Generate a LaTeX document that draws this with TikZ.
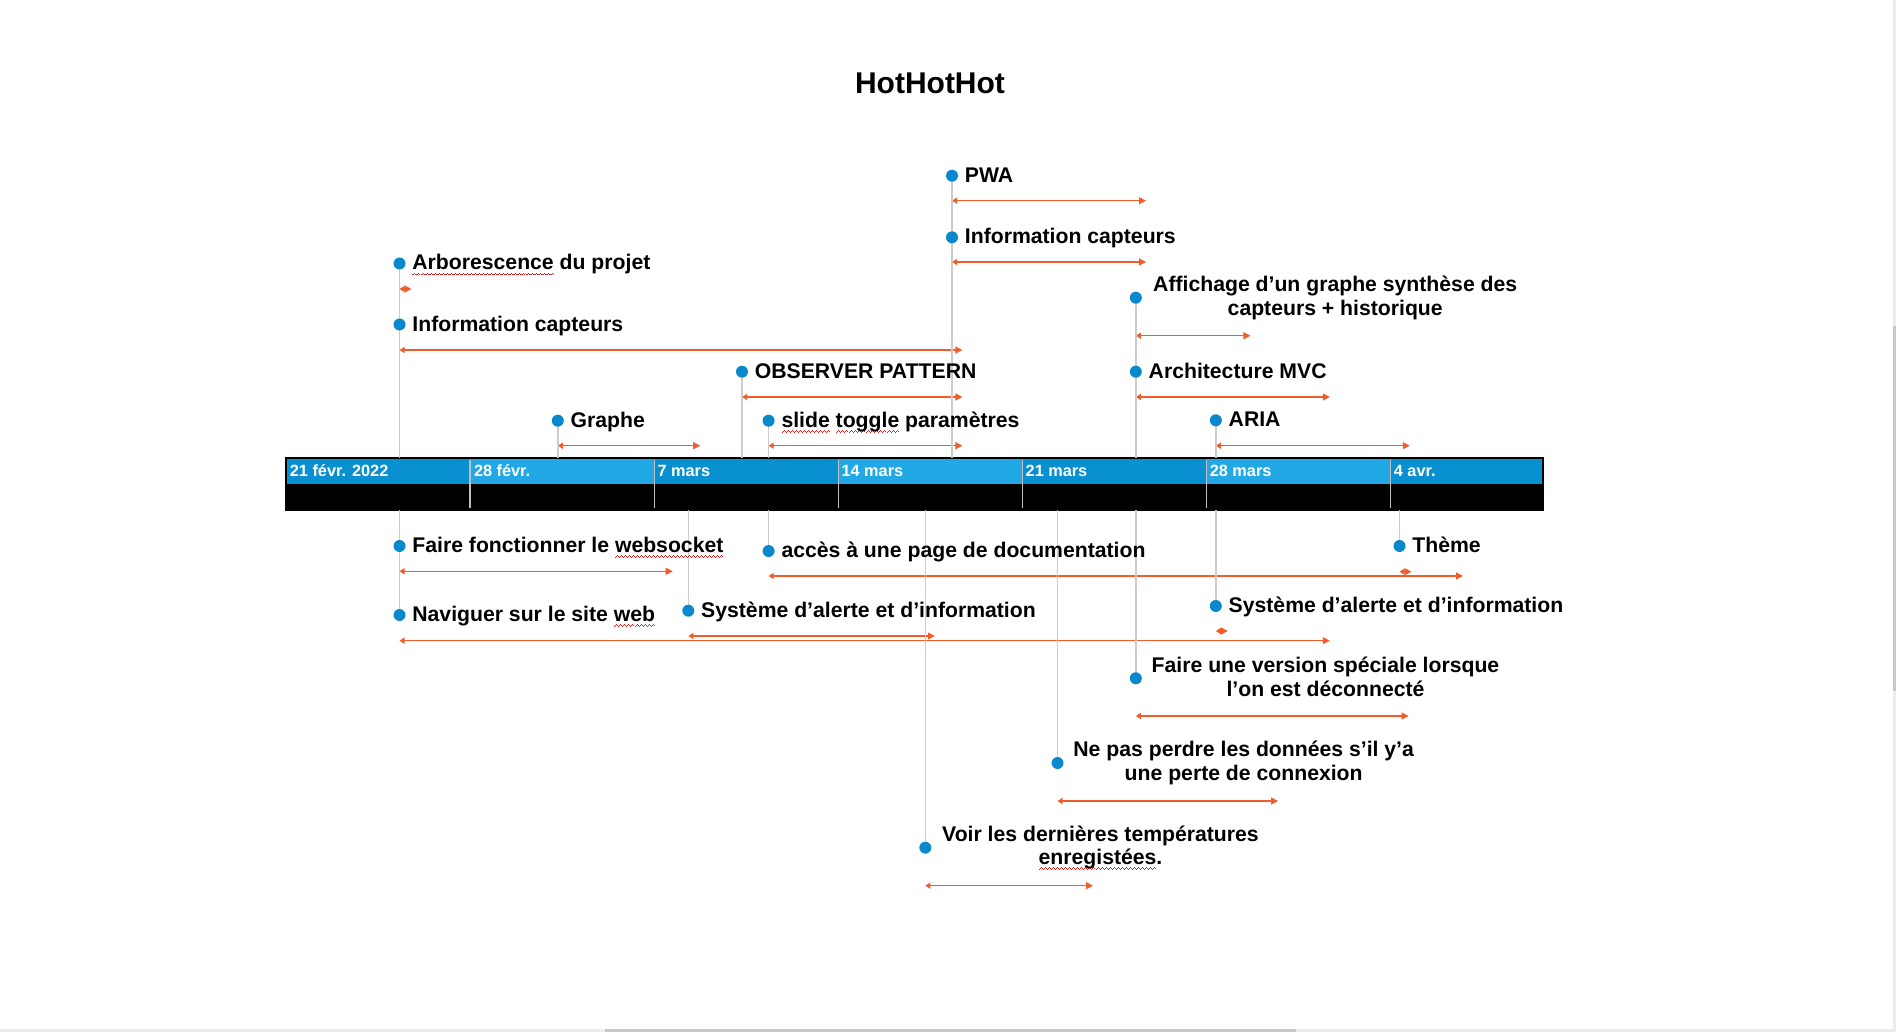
\documentclass[tikz,border=0pt]{standalone}
\usepackage{fontspec}
\setmainfont{Liberation Sans}
\usetikzlibrary{arrows.meta}
\definecolor{dotblue}{RGB}{10,136,206}
\definecolor{bard}{RGB}{8,144,208}
\definecolor{barl}{RGB}{34,168,228}
\definecolor{durred}{RGB}{242,92,42}
\definecolor{stemgray}{RGB}{204,204,204}
\definecolor{tickgray}{RGB}{192,192,192}
\definecolor{sqred}{RGB}{228,32,32}
\definecolor{scrl}{RGB}{236,236,236}
\definecolor{scrd}{RGB}{200,200,200}
\newsavebox\sqbox
\newcommand\squig[1]{\sbox\sqbox{#1}\leavevmode\rlap{\raisebox{-2.6pt}{\color{sqred}\hbox to\wd\sqbox{\xleaders\hbox{\rule{0.5pt}{0.4pt}\rule[0.4pt]{0.5pt}{0.4pt}\rule[0.8pt]{0.5pt}{0.4pt}\rule[0.4pt]{0.5pt}{0.4pt}}\hfil}}}\usebox\sqbox}
\newcommand\lblfont{\bfseries\fontsize{10.6}{11.8}\selectfont}
\newcommand\titlefont{\bfseries\fontsize{15}{18}\selectfont}
\newcommand\tickfont{\bfseries\fontsize{8.15}{10}\selectfont}
\tikzset{
  dot/.style={circle,fill=dotblue,inner sep=0pt,minimum size=6pt},
  lbl/.style={anchor=base west,inner sep=0pt,font=\lblfont},
  lbltwo/.style={anchor=west,inner sep=0pt,font=\lblfont,align=center},
  dur/.style={draw=durred,line width=0.65pt,{Triangle[length=2.5pt,width=3pt]}-{Triangle[length=3.5pt,width=3.5pt]}},
  stem/.style={draw=stemgray,line width=0.8pt},
  tickline/.style={draw=tickgray,line width=0.7pt},
  ticklbl/.style={anchor=base west,inner sep=0pt,font=\tickfont,text=white},
}
\begin{document}
\begin{tikzpicture}[x=0.5pt,y=-0.5pt]
\useasboundingbox (0,0) rectangle (1896,1032);
\fill[white] (0,0) rectangle (1896,1032);

% title
\node[anchor=base,inner sep=0pt,font=\titlefont] (title) at (930,93.3) {HotHotHot};

% timeline bar
\fill[bard] (286,458) rectangle (470.1,483.5);
\fill[barl] (470.1,458) rectangle (654.2,483.5);
\fill[bard] (654.2,458) rectangle (838.2,483.5);
\fill[barl] (838.2,458) rectangle (1022.3,483.5);
\fill[bard] (1022.3,458) rectangle (1206.4,483.5);
\fill[barl] (1206.4,458) rectangle (1390.5,483.5);
\fill[bard] (1390.5,458) rectangle (1543,483.5);
\fill[black] (286,483.5) rectangle (1543,510);
\foreach \t in {470.1,654.2,838.2,1022.3,1206.4,1390.5}
  \draw[tickline] (\t,459.5) -- (\t,508);
\draw[black,line width=0.75pt] (286,458) rectangle (1543,510);
\node[ticklbl] (t0) at (289.5,476) {21 févr. 2022};
\node[ticklbl] (t1) at (473.6,476) {28 févr.};
\node[ticklbl] (t2) at (657.2,476) {7 mars};
\node[ticklbl] (t3) at (841.2,476) {14 mars};
\node[ticklbl] (t4) at (1025.3,476) {21 mars};
\node[ticklbl] (t5) at (1209.4,476) {28 mars};
\node[ticklbl] (t6) at (1393.5,476) {4 avr.};
\coordinate (bartop) at (0,458);
\coordinate (barbot) at (0,510);

% event positions
\coordinate (e1) at (399.5,263.5);
\coordinate (e2) at (399.5,324.5);
\coordinate (e3) at (557.8,420.7);
\coordinate (e4) at (742,371.7);
\coordinate (e5) at (768.6,420.7);
\coordinate (e6) at (952,175.7);
\coordinate (e7) at (952,237.3);
\coordinate (e8) at (1135.8,297.7);
\coordinate (e9) at (1135.8,371.7);
\coordinate (e10) at (1215.8,420.3);
\coordinate (e11) at (399.5,546);
\coordinate (e12) at (768.6,551);
\coordinate (e13) at (1399.5,546);
\coordinate (e14) at (399.5,615);
\coordinate (e15) at (688.3,610.7);
\coordinate (e16) at (1215.8,606);
\coordinate (e17) at (1135.8,678.3);
\coordinate (e18) at (1057.5,763);
\coordinate (e19) at (925.3,847.7);

% durations
\draw[dur] (399.5,289) -- (411.5,289);
\draw[dur] (399.5,350) -- (962.4,350);
\draw[dur] (557.8,445.7) -- (700.2,445.7);
\draw[dur] (742,397) -- (962.4,397);
\draw[dur] (768.6,445.7) -- (962.4,445.7);
\draw[dur] (952,200.7) -- (1146,200.7);
\draw[dur] (952,262) -- (1146,262);
\draw[dur] (1135.8,335.7) -- (1250.4,335.7);
\draw[dur] (1135.8,397) -- (1329.8,397);
\draw[dur] (1215.8,445.7) -- (1409.8,445.7);
\draw[dur] (399.5,571.3) -- (672.7,571.3);
\draw[dur] (768.6,576) -- (1463,576);
\draw[dur] (1399.5,571.7) -- (1411.5,571.7);
\draw[dur] (399.5,640.7) -- (1329.8,640.7);
\draw[dur] (688.3,636) -- (934.8,636);
\draw[dur] (1215.8,631) -- (1227.8,631);
\draw[dur] (1135.8,716) -- (1408.5,716);
\draw[dur] (1057.5,801) -- (1278,801);
\draw[dur] (925.3,885.7) -- (1093,885.7);

% stems
\foreach \e in {e1,e2,e3,e4,e5,e6,e7,e8,e9,e10}
  \draw[stem] (\e) -- (\e |- bartop);
\foreach \e in {e11,e12,e13,e14,e15,e16,e17,e18,e19}
  \draw[stem] (\e) -- (\e |- barbot);

% dots
\foreach \i in {1,...,19}
  \node[dot] (d\i) at (e\i) {};

% labels
\node[lbl] (l1) at ([shift={(12.5,6.5)}]e1) {\squig{Arborescence} du projet};
\node[lbl] (l2) at ([shift={(12.5,6.5)}]e2) {Information capteurs};
\node[lbl] (l3) at ([shift={(12.5,6.5)}]e3) {Graphe};
\node[lbl] (l4) at ([shift={(12.5,6.5)}]e4) {OBSERVER PATTERN};
\node[lbl] (l5) at ([shift={(12.5,6.5)}]e5) {\squig{slide} \squig{toggle} paramètres};
\node[lbl] (l6) at ([shift={(12.5,6.5)}]e6) {PWA};
\node[lbl] (l7) at ([shift={(12.5,6.5)}]e7) {Information capteurs};
\node[lbltwo] (l8) at ([shift={(17,0)}]e8) {Affichage d’un graphe synthèse des\\capteurs + historique};
\node[lbl] (l9) at ([shift={(12.5,6.5)}]e9) {Architecture MVC};
\node[lbl] (l10) at ([shift={(12.5,6.5)}]e10) {ARIA};
\node[lbl] (l11) at ([shift={(12.5,6.5)}]e11) {Faire fonctionner le \squig{websocket}};
\node[lbl] (l12) at ([shift={(12.5,6.5)}]e12) {accès à une page de documentation};
\node[lbl] (l13) at ([shift={(12.5,6.5)}]e13) {Thème};
\node[lbl] (l14) at ([shift={(12.5,6.5)}]e14) {Naviguer sur le site \squig{web}};
\node[lbl] (l15) at ([shift={(12.5,6.5)}]e15) {Système d’alerte et d’information};
\node[lbl] (l16) at ([shift={(12.5,6.5)}]e16) {Système d’alerte et d’information};
\node[lbltwo] (l17) at ([shift={(15.5,-1.5)}]e17) {Faire une version spéciale lorsque\\l’on est déconnecté};
\node[lbltwo] (l18) at ([shift={(15.5,0)}]e18) {Ne pas perdre les données s’il y’a\\une perte de connexion};
\node[lbltwo] (l19) at ([shift={(16.5,0)}]e19) {Voir les dernières températures\\\squig{enregistées}.};

% window scroll bars
\fill[scrl] (1892.5,0) rectangle (1896,1032);
\fill[scrd] (1892.5,326) rectangle (1896,691);
\fill[scrl] (0,1028.5) rectangle (1896,1032);
\fill[scrd] (605,1028.5) rectangle (1296,1032);
\end{tikzpicture}
\end{document}
